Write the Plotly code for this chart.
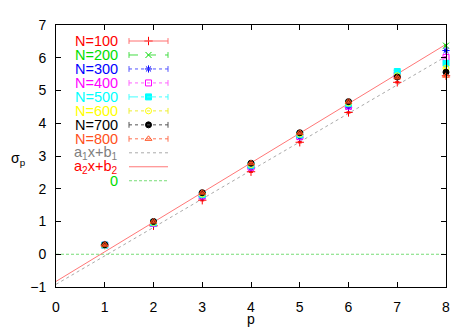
import plotly.graph_objects as go

p_vals = [1, 2, 3, 4, 5, 6, 7, 8]
series_names = ["N=100", "N=200", "N=300", "N=400", "N=500", "N=600", "N=700", "N=800"]
sigma_N100 = [0.28, 0.87, 1.65, 2.52, 3.42, 4.33, 5.25, 5.45]
sigma_N200 = [0.28, 0.95, 1.80, 2.70, 3.63, 4.58, 5.52, 6.37]
sigma_N300 = [0.28, 0.93, 1.76, 2.64, 3.57, 4.49, 5.45, 6.22]
sigma_N400 = [0.28, 0.94, 1.78, 2.66, 3.59, 4.52, 5.47, 6.01]
sigma_N500 = [0.28, 0.96, 1.82, 2.72, 3.65, 4.60, 5.58, 5.83]
sigma_N600 = [0.28, 0.97, 1.84, 2.74, 3.67, 4.62, 5.45, 5.68]
sigma_N700 = [0.29, 1.00, 1.88, 2.78, 3.71, 4.66, 5.41, 5.56]
sigma_N800 = [0.29, 1.00, 1.88, 2.78, 3.71, 4.66, 5.40, 5.45]
sigma_err = 0.02

a1, b1 = 0.87, -0.92
a2, b2 = 0.905, -0.83
fit_x = [0, 8]

x_ticks = [0, 1, 2, 3, 4, 5, 6, 7, 8]
y_ticks = [-1, 0, 1, 2, 3, 4, 5, 6, 7]

all_series = [sigma_N100, sigma_N200, sigma_N300, sigma_N400,
              sigma_N500, sigma_N600, sigma_N700, sigma_N800]
colors = ["#ff0000", "#00dd00", "#0000ff", "#ff00ff", "#00ffff", "#ffff00", "#000000", "#ff5020"]
symbols = ["cross-thin-open", "x-thin-open", "asterisk-open", "square-open",
           "square", "circle-open", "circle", "triangle-up-open"]
dashes = ["solid", "dash", "dot", "dot", "dashdot", "dot", "dot", "dot"]

FONT = "Liberation Sans, Arial, sans-serif"

# page-pixel layout of the plot area (body has an 8px default margin)
PX_L, PX_R, PX_T, PX_B = 56, 446, 17, 287
BODY = 8


def paper_x(px):
    return (px - PX_L) / (PX_R - PX_L)


def paper_y(py):
    return (PX_B - py) / (PX_B - PX_T)


fig = go.Figure()

# zero line and fits
fig.add_trace(go.Scatter(x=fit_x, y=[0, 0], mode="lines",
                         line=dict(color="#77dd77", width=1, dash="3px,2px"), showlegend=False))
fig.add_trace(go.Scatter(x=fit_x, y=[a1 * x + b1 for x in fit_x], mode="lines",
                         line=dict(color="#aaaaaa", width=1, dash="dot"), showlegend=False))
fig.add_trace(go.Scatter(x=fit_x, y=[a2 * x + b2 for x in fit_x], mode="lines",
                         line=dict(color="#ff7777", width=1), showlegend=False))

for name, ys, c, s in zip(series_names, all_series, colors, symbols):
    fig.add_trace(go.Scatter(
        x=p_vals, y=ys, mode="markers", name=name, showlegend=False,
        marker=dict(symbol=s, color=c, size=6, line=dict(color=c, width=1)),
        error_y=dict(type="constant", value=sigma_err, color=c, thickness=1, width=2),
        cliponaxis=False,
    ))

# custom gnuplot-style legend (text left of the sample)
leg_y0, leg_dy = 33.5, 14.4
x_text, x_l0, x_l1 = 120, 129, 168
x_mid = (x_l0 + x_l1) / 2
shapes = []
annots = []
leg_labels = series_names + ["a<sub>1</sub>x+b<sub>1</sub>", "a<sub>2</sub>x+b<sub>2</sub>", "0"]
leg_colors = colors + ["#808080", "#ff0000", "#00dd00"]
leg_line_colors = ["#ff7070", "#44dd44", "#5555ff", "#ff66ff", "#44ffff", "#eeee33", "#555555", "#ff7050",
                   "#aaaaaa", "#ff7777", "#77dd77"]
leg_dashes = dashes + ["dot", "solid", "3px,2px"]
for i, (lab, c, lc, d) in enumerate(zip(leg_labels, leg_colors, leg_line_colors, leg_dashes)):
    yy = leg_y0 + i * leg_dy
    annots.append(dict(x=paper_x(x_text), y=paper_y(yy), xref="paper", yref="paper", text=lab,
                       showarrow=False, xanchor="right", yanchor="middle",
                       font=dict(family=FONT, size=14.5, color=c)))
    shapes.append(dict(type="line", x0=paper_x(x_l0), x1=paper_x(x_l1), y0=paper_y(yy), y1=paper_y(yy),
                       xref="paper", yref="paper", line=dict(color=lc, width=1, dash=d)))
    if i < 8:
        for xe in (x_l0, x_l1):
            shapes.append(dict(type="line", x0=paper_x(xe), x1=paper_x(xe), y0=paper_y(yy - 3),
                               y1=paper_y(yy + 3), xref="paper", yref="paper",
                               line=dict(color=lc, width=1)))

fig.add_trace(go.Scatter(
    x=[x_mid] * 8, y=[leg_y0 + i * leg_dy for i in range(8)], xaxis="x2", yaxis="y2",
    mode="markers", showlegend=False, hoverinfo="skip",
    marker=dict(symbol=symbols, color=colors, size=6, line=dict(color=colors, width=1)),
))

annots.append(dict(x=paper_x(18), y=paper_y(155), xref="paper", yref="paper", text="σ<sub>p</sub>",
                   showarrow=False, xanchor="center", yanchor="middle",
                   font=dict(family=FONT, size=14, color="black")))
annots.append(dict(x=paper_x(251), y=paper_y(320), xref="paper", yref="paper", text="p",
                   showarrow=False, xanchor="center", yanchor="middle",
                   font=dict(family=FONT, size=14, color="black")))

fig.update_layout(
    width=471 - BODY, height=330 - BODY,
    margin=dict(l=PX_L - BODY, r=471 - PX_R, t=PX_T - BODY, b=330 - PX_B),
    paper_bgcolor="white", plot_bgcolor="white",
    font=dict(family=FONT, size=14, color="black"),
    xaxis=dict(range=[0, 8], tickvals=x_ticks, ticks="inside", ticklen=5, tickcolor="black",
               showline=True, linecolor="black", linewidth=1, mirror="allticks",
               showgrid=False, zeroline=False, ticklabelstandoff=7),
    yaxis=dict(range=[-1, 7], tickvals=y_ticks, ticks="inside", ticklen=5, tickcolor="black",
               showline=True, linecolor="black", linewidth=1, mirror="allticks",
               showgrid=False, zeroline=False, ticklabelstandoff=6),
    xaxis2=dict(range=[PX_L, PX_R], overlaying="x", visible=False, fixedrange=True),
    yaxis2=dict(range=[PX_B, PX_T], overlaying="y", visible=False, fixedrange=True),
    shapes=shapes, annotations=annots,
)
fig.write_html("out.html")
